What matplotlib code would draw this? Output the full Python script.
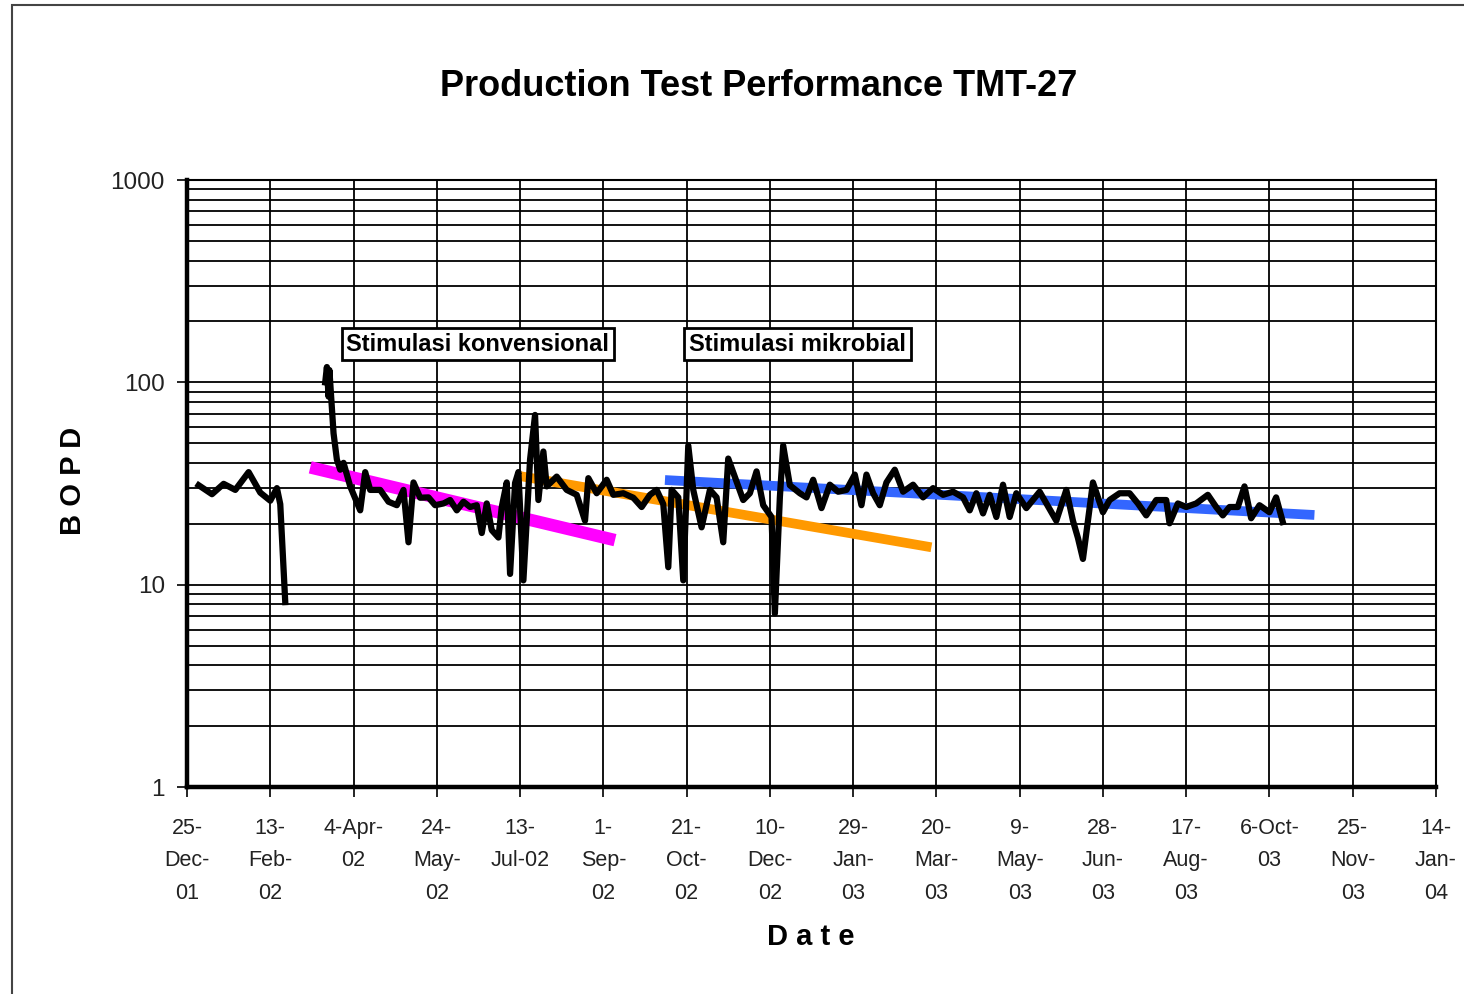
import matplotlib.pyplot as plt
import matplotlib.patches as patches
import numpy as np
import pandas as pd

plt.rcParams['font.family'] = ['Liberation Sans', 'DejaVu Sans']

start = pd.Timestamp("2001-12-25")

# production test data, days after 25-Dec-01 and BOPD (NaN = no test)
days = [7, 15, 22, 29, 37, 44, 50, 54, 56, 59, 60,
        83, 84, 85, 85.5, 88, 90, 92, 94, 98, 104, 107, 110, 116, 121, 126, 130,
        133, 136, 140, 145, 149, 154, 158, 162, 166, 170, 174, 177, 180, 183, 187,
        189, 192, 194, 197, 199, 202, 206, 209, 211, 214, 216, 222, 228, 234, 239,
        241, 246, 252, 256, 262, 268, 273, 278, 282, 286, 289, 291, 295, 298, 301,
        304, 309, 314, 318, 322, 325, 329, 334, 338, 342, 346, 351, 353, 356, 358,
        362, 368, 372, 376, 381, 386, 391, 396, 401, 405, 408, 412, 416, 420, 425,
        430, 436, 442, 448, 454, 460, 466, 470, 474, 478, 482, 486, 490, 494, 498,
        504, 512, 522, 528, 532, 535, 538, 541, 544, 547, 550, 554, 560, 566, 571,
        576, 582, 588, 590, 595, 600, 606, 613, 618, 622, 626, 631, 635, 639, 644,
        650, 654, 658]
bopd = [31, 28, 31.5, 29.4, 36, 28.5, 26, 30, 25, 8.2, np.nan,
        100, 119, 85, 115, 56, 41.5, 37, 40, 30.6, 23.3, 36, 29.4, 29.4, 25.7, 24.7, 29.4,
        16.2, 32, 26.9, 27, 24.7, 25.2, 26.2, 23.3, 25.7, 24.2, 24.7, 18, 25.2, 18.6, 17.1,
        24.2, 32, 11.3, 31.8, 36, 10.5, 41.5, 69, 26.2, 45.5, 30.6, 34.2, 29.4, 27.8, 20.7,
        33.6, 28.3, 33, 27.8, 28.3, 26.9, 24.2, 27.8, 29.4, 25, 12.2, 29.4, 27, 10.5, 48.7,
        29.4, 19.2, 29.4, 27, 16.2, 42, 34, 26.2, 28.3, 36.3, 24.7, 21.6, 7.2, 27, 48.7,
        31, 28.3, 27, 33, 23.9, 31.2, 28.8, 29.4, 35, 24.7, 35, 28.3, 24.7, 32, 37,
        28.8, 31.2, 27, 30, 27.8, 28.8, 27, 23.3, 28.3, 22.5, 27.8, 21.6, 31.2, 21.6, 28.3,
        23.9, 28.8, 20.7, 29.4, 20.7, 17, 13.4, 20.7, 32, 27, 22.8, 26.2, 28.3, 28.3, 25.2,
        22, 26.2, 26.2, 20.1, 25.2, 24.2, 25.2, 27.8, 24.2, 22, 24.2, 24.2, 30.6, 21.3, 24.7,
        22.8, 27, 20.4]

# trend lines (start/end day, start/end BOPD)
konv_days = [74, 257]
konv_bopd = [38, 16.6]
orange_days = [200, 447]
orange_bopd = [34.4, 15.3]
mikro_days = [287, 677]
mikro_bopd = [32.9, 22.1]

tick_labels = ["25-\nDec-\n01", "13-\nFeb-\n02", "4-Apr-\n02", "24-\nMay-\n02",
               "13-\nJul-02", "1-\nSep-\n02", "21-\nOct-\n02", "10-\nDec-\n02",
               "29-\nJan-\n03", "20-\nMar-\n03", "9-\nMay-\n03", "28-\nJun-\n03",
               "17-\nAug-\n03", "6-Oct-\n03", "25-\nNov-\n03", "14-\nJan-\n04"]


def to_date(d):
    return start + pd.to_timedelta(np.asarray(d, dtype=float), unit="D")


fig = plt.figure(figsize=(14.64, 9.94), dpi=100)
ax = fig.add_axes([187/1464, 1-787/994, (1436-187)/1464, (787-180)/994])

ax.plot(to_date(konv_days), konv_bopd, color="#ff00ff", lw=9, solid_capstyle="butt", zorder=3)
ax.plot(to_date(orange_days), orange_bopd, color="#ff9900", lw=7, solid_capstyle="butt", zorder=3)
ax.plot(to_date(mikro_days), mikro_bopd, color="#3366ff", lw=7, solid_capstyle="butt", zorder=3)
ax.plot(to_date(days), bopd, color="black", lw=4.5, zorder=4)

ax.set_yscale("log")
ax.set_ylim(1, 1000)
ticks = to_date(np.arange(0, 751, 50))
ax.set_xlim(ticks[0], ticks[-1])
ax.set_xticks(ticks)
ax.set_xticklabels(tick_labels, fontsize=15.5, linespacing=1.74, color="#222222")
ax.set_yticks([1, 10, 100, 1000])
ax.set_yticklabels(["1", "10", "100", "1000"], fontsize=17.5, color="#222222")
ax.tick_params(axis="x", which="major", direction="out", length=7, width=1.2, pad=15)
ax.tick_params(axis="y", which="major", direction="out", length=7, width=1.2, pad=9)
ax.minorticks_on()
ax.tick_params(axis="y", which="minor", length=0)
ax.xaxis.set_minor_locator(plt.NullLocator())

ax.grid(True, which="major", axis="x", color="black", lw=1.3)
ax.grid(True, which="both", axis="y", color="black", lw=1.3)
ax.set_axisbelow(True)

for s in ["left", "bottom"]:
    ax.spines[s].set_linewidth(3.2)
for s in ["top", "right"]:
    ax.spines[s].set_linewidth(1.5)

fig.text(759/1464, 1-87/994, "Production Test Performance TMT-27", fontsize=26,
         fontweight="bold", ha="center", va="center")
fig.text(73/1464, 1-481/994, "B O P D", fontsize=21, fontweight="bold",
         rotation=90, ha="center", va="center")
fig.text(811/1464, 1-937/994, "D a t e", fontsize=21, fontweight="bold",
         ha="center", va="center")

box = dict(boxstyle="square,pad=0.2", fc="white", ec="black", lw=2)
ax.text(to_date(174.6), 154.5, "Stimulasi konvensional", fontsize=17, fontweight="bold",
        ha="center", va="center", bbox=box, zorder=5)
ax.text(to_date(366.6), 154.5, "Stimulasi mikrobial", fontsize=17, fontweight="bold",
        ha="center", va="center", bbox=box, zorder=5)

frame = patches.Rectangle((12/1464, -0.05), 1.2, 1.05 - 5/994, transform=fig.transFigure,
                          fill=False, ec="#444444", lw=1.5)
fig.patches.append(frame)

fig.savefig("out.png", dpi=100)
